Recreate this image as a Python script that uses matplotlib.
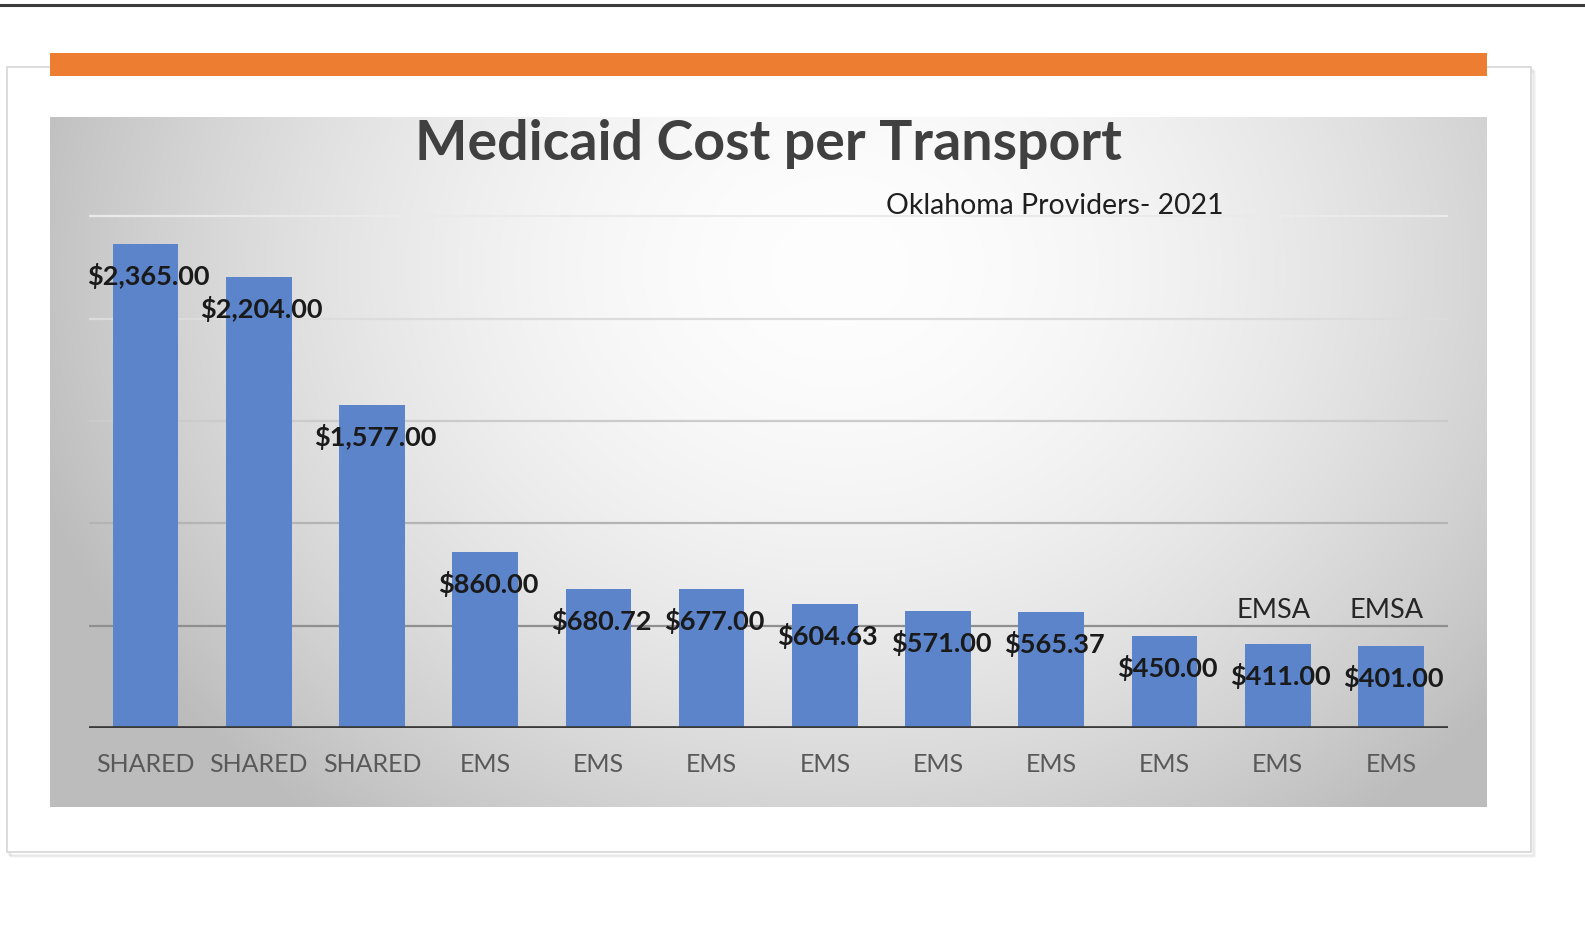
import numpy as np
import matplotlib
matplotlib.use("Agg")
import matplotlib.pyplot as plt
from matplotlib.patches import Rectangle
from matplotlib.lines import Line2D

# ---------------- data ----------------
categories = ["SHARED", "SHARED", "SHARED", "EMS", "EMS", "EMS",
              "EMS", "EMS", "EMS", "EMS", "EMS", "EMS"]
costs = [2365.00, 2204.00, 1577.00, 860.00, 680.72, 677.00,
         604.63, 571.00, 565.37, 450.00, 411.00, 401.00]
top_labels = ["", "", "", "", "", "", "", "", "", "", "EMSA", "EMSA"]
grid_values = [500, 1000, 1500, 2000, 2500]
title = "Medicaid Cost per Transport"
subtitle = "Oklahoma Providers- 2021"

# ---------------- layout helpers ----------------
W, H = 1585, 938
fig = plt.figure(figsize=(W / 100, H / 100), dpi=100)
fig.patch.set_facecolor("white")
FONT = ["Lato", "DejaVu Sans"]


def px_box(x0, y0, x1, y1):
    return [x0 / W, 1 - y1 / H, (x1 - x0) / W, (y1 - y0) / H]


def fx(x):
    return x / W


def fy(y):
    return 1 - y / H


# top rule
fig.add_artist(Line2D([0, 1], [fy(5), fy(5)], color="#3c3c3c", lw=2.2,
                      transform=fig.transFigure, zorder=-3))

# card with soft shadow
for k, a in enumerate([0.05, 0.04, 0.03]):
    fig.add_artist(Rectangle((fx(7 + k + 2), fy(852 + k + 3)),
                             fx(1531 - 7), (852 - 67) / H,
                             transform=fig.transFigure, facecolor="none",
                             edgecolor=(0, 0, 0, a), lw=1.5, zorder=-4))
fig.add_artist(Rectangle((fx(7), fy(852)), fx(1531 - 7), (852 - 67) / H,
                         transform=fig.transFigure, facecolor="white",
                         edgecolor="#d6d6d6", lw=1.2, zorder=-3))

# orange band
fig.add_artist(Rectangle((fx(50.5), fy(76)), fx(1487 - 50.5), (76 - 53.5) / H,
                         transform=fig.transFigure, facecolor="#ED7D31",
                         edgecolor="none", zorder=-2))

# gradient chart area
bg = fig.add_axes(px_box(50.5, 117, 1487, 807))
bg.set_zorder(-1)
ny, nx = 300, 600
yy, xx = np.mgrid[0:1:ny * 1j, 0:1:nx * 1j]
d = np.sqrt(((xx - 0.55) / 0.58) ** 2 + ((yy - 0.22) / 1.0) ** 2)
v = 0.995 - 0.25 * np.clip(d, 0, 1.3) ** 1.8
v = np.clip(v, 0.74, 1.0)
img = np.dstack([v, v, v])
bg.imshow(img, aspect="auto", extent=[0, 1, 0, 1], interpolation="bilinear")
bg.set_axis_off()

# ---------------- bar plot ----------------
axis_y = 728
scale = 0.2047  # px per dollar
ymax = 2600
ax = fig.add_axes(px_box(89, axis_y - ymax * scale, 1447.5, axis_y))
ax.patch.set_alpha(0)
x = np.arange(len(costs))
ax.set_xlim(-0.5, len(costs) - 0.5)
ax.set_ylim(0, ymax)

grid_colors = ["#8f8f8f", "#b4b4b4", "#cbcbcb", "#dcdcdc", "#eaeaea"]
for gv, gc in zip(grid_values, grid_colors):
    ax.axhline(gv, color=gc, lw=1.6, zorder=0)

ax.bar(x, costs, width=0.58, color="#5B84CB", zorder=2)
ax.axhline(0, color="#3a3a3a", lw=3.4, zorder=3)

for s in ax.spines.values():
    s.set_visible(False)
ax.set_yticks([])
ax.set_xticks(x)
ax.set_xticklabels(categories, fontsize=18, color="#595959", family=FONT)
ax.tick_params(axis="x", length=0, pad=18)

for xi, c in zip(x, costs):
    ax.annotate(f"${c:,.2f}", (xi, c), xytext=(2, -23), textcoords="offset points",
                ha="center", va="center", fontsize=19.5, fontweight="bold",
                color="#1a1a1a", family=FONT, zorder=4)

labelled = [c for c, t in zip(costs, top_labels) if t]
emsa_anchor = max(labelled) if labelled else 0
for xi, t in zip(x, top_labels):
    if t:
        ax.annotate(t, (xi, emsa_anchor), xytext=(-3, 24), textcoords="offset points",
                    ha="center", va="center", fontsize=19.5, color="#262626",
                    family=FONT)

# titles
fig.text(fx(768), fy(144), title, ha="center", va="center", fontsize=40,
         fontweight="bold", color="#404040", family=FONT)
fig.text(fx(1055), fy(206), subtitle, ha="center", va="center", fontsize=20.4,
         color="#1f1f1f", family=FONT)

fig.savefig("out.png", dpi=100, facecolor="white")
